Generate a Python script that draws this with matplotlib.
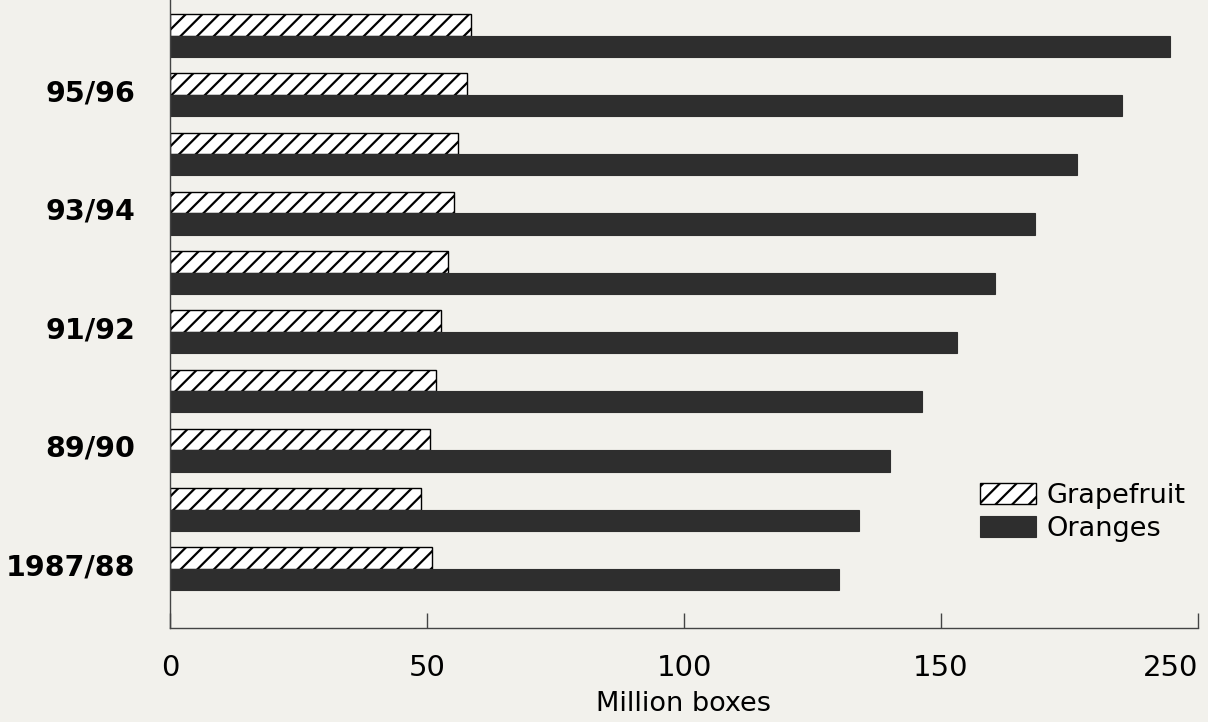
import numpy as np
import matplotlib.pyplot as plt

# Saisons von unten nach oben
seasons = ["1987/88", "88/89", "89/90", "90/91", "91/92",
           "92/93", "93/94", "94/95", "95/96", "96/97"]
grapefruit = [50.9, 48.9, 50.5, 51.8, 52.8, 54.0, 55.3, 56.1, 57.7, 58.6]
oranges = [130.1, 134.0, 140.0, 146.4, 153.2, 160.6, 168.3, 176.5, 185.2, 194.6]

label_seasons = ["1987/88", "89/90", "91/92", "93/94", "95/96"]
x_ticks = [0, 50, 100, 150, 200]
x_tick_labels = ["0", "50", "100", "150", "250"]

bg = "#f2f1ec"
plt.rcParams['hatch.linewidth'] = 1.6
plt.rcParams['font.family'] = "DejaVu Sans"

fig = plt.figure(figsize=(12.08, 7.22), dpi=100, facecolor=bg)
ax = fig.add_axes([170/1208, 94/722, 1028/1208, 628/722])
ax.set_facecolor(bg)

y = np.arange(len(seasons))
h = 0.36
ax.barh(y + h/2, grapefruit, height=h, color="white", edgecolor="black",
        hatch="//", linewidth=1.0, label="Grapefruit")
ax.barh(y - h/2, oranges, height=h, color="#2e2e2e", edgecolor="#2e2e2e",
        linewidth=0.8, label="Oranges")

ax.set_xlim(0, 200)
ax.set_ylim(-1.0, 9.6)

ax.spines["top"].set_visible(False)
ax.spines["right"].set_visible(False)
for s in ("left", "bottom"):
    ax.spines[s].set_linewidth(1.0)
    ax.spines[s].set_color("#444444")

ax.set_xticks(x_ticks)
ax.set_xticklabels(x_tick_labels, fontsize=21)
ax.get_xticklabels()[-1].set_ha("right")
ax.tick_params(axis="x", direction="in", length=11, width=1.0,
               color="#444444", pad=19)

ypos = [seasons.index(s) + 0.08 for s in label_seasons]
ax.set_yticks(ypos)
ax.set_yticklabels(label_seasons, fontsize=20.5, fontweight="bold")
ax.tick_params(axis="y", length=0, pad=25)

ax.set_xlabel("Million boxes", fontsize=19.5, labelpad=6)

ax.legend(loc="upper left", bbox_to_anchor=(980/1208, 1 - 483/722),
          bbox_transform=fig.transFigure, frameon=False,
          prop={"size": 19.5},
          handlelength=2.05, handleheight=0.8, handletextpad=0.4,
          labelspacing=0.25, borderaxespad=0, borderpad=0)

fig.savefig("out.png", dpi=100, facecolor=bg)
